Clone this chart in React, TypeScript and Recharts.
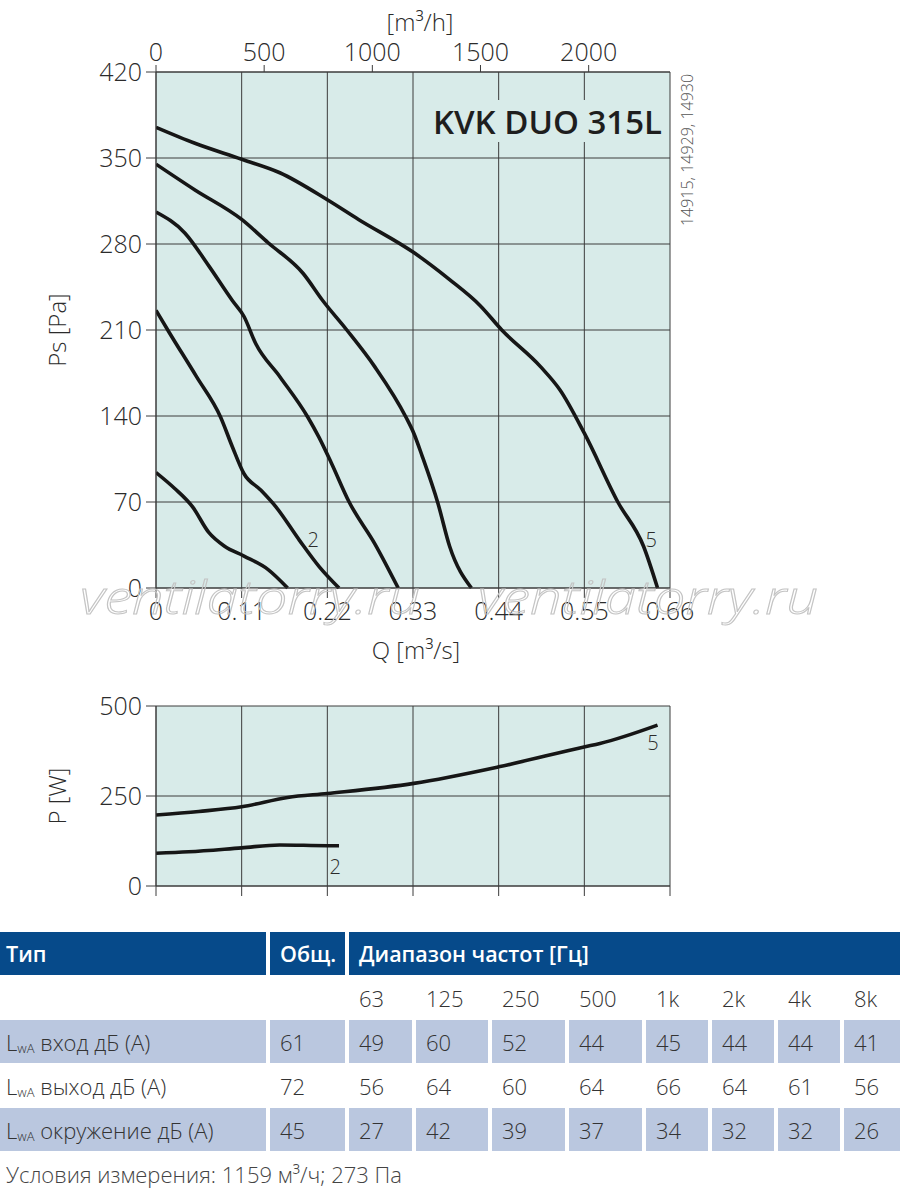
import { LineChart, Line, XAxis, YAxis, CartesianGrid, ReferenceDot } from "recharts";

const FONT = '"Open Sans", "Noto Sans", sans-serif';
const INK = "#2b2b2b";
const GRID = "#3c3c3c";
const PLOT_BG = "#d8ebe9";
const HEAD_BLUE = "#064a8a";
const CELL_BG = "#bac7df";

// fan curves: Q [m3/s] vs Ps [Pa]
const curve1Q = [0, 0.024, 0.047, 0.068, 0.088, 0.113, 0.144, 0.169];
const curve1Ps = [94, 81, 66, 45, 34, 26, 15, 0];
const curve2Q = [0, 0.017, 0.052, 0.083, 0.098, 0.113, 0.134, 0.154, 0.184, 0.21, 0.235];
const curve2Ps = [226, 208, 172, 139, 115, 93, 80, 66, 39, 17, 0];
const curve3Q = [0, 0.037, 0.068, 0.098, 0.113, 0.128, 0.159, 0.195, 0.209, 0.225, 0.248, 0.281, 0.311];
const curve3Ps = [306, 289, 262, 234, 221, 199, 172, 139, 123, 102, 70, 36, 0];
const curve4Q = [0, 0.05, 0.11, 0.144, 0.189, 0.214, 0.245, 0.281, 0.321, 0.331, 0.342, 0.362, 0.377, 0.405];
const curve4Ps = [345, 324, 300, 281, 256, 234, 210, 180, 139, 126, 107, 69, 34, 0];
const curve5Q = [0, 0.05, 0.11, 0.159, 0.22, 0.26, 0.331, 0.377, 0.416, 0.444, 0.494, 0.519, 0.55, 0.593, 0.626, 0.644];
const curve5Ps = [375, 362, 349, 338, 316, 300, 273, 251, 230, 210, 180, 161, 126, 70, 34, 0];

// power curves: Q [m3/s] vs P [W]
const power2Q = [0, 0.042, 0.11, 0.159, 0.22, 0.235];
const power2W = [91, 95, 106, 114, 112, 112];
const power5Q = [0, 0.055, 0.11, 0.169, 0.22, 0.331, 0.44, 0.551, 0.57, 0.644];
const power5W = [197, 207, 220, 246, 257, 285, 331, 387, 396, 447];

const qTicks = [0, 0.11, 0.22, 0.33, 0.44, 0.55, 0.66];
const qhTicks = [0, 500, 1000, 1500, 2000];
const psTicks = [0, 70, 140, 210, 280, 350, 420];
const pTicks = [0, 250, 500];

// sound table
const bands = ["63", "125", "250", "500", "1k", "2k", "4k", "8k"];
const inletTotal = 61;
const inletDb = [49, 60, 52, 44, 45, 44, 44, 41];
const outletTotal = 72;
const outletDb = [56, 64, 60, 64, 66, 64, 61, 56];
const surroundTotal = 45;
const surroundDb = [27, 42, 39, 37, 34, 32, 32, 26];

const zip = (qs: number[], vs: number[]) => qs.map((q, i) => ({ q, v: vs[i] }));
const fanCurves = [
  zip(curve1Q, curve1Ps),
  zip(curve2Q, curve2Ps),
  zip(curve3Q, curve3Ps),
  zip(curve4Q, curve4Ps),
  zip(curve5Q, curve5Ps),
];
// same top curve in m3/h, only so the upper axis gets its scale
const curve5PerHour = zip(curve5Q.map((q) => q * 3600), curve5Ps);
const powerCurves = [zip(power2Q, power2W), zip(power5Q, power5W)];

const tickStyle = { fill: INK, fontSize: 25, fontFamily: FONT, fontWeight: 300 };
const curveLabel = (value: string) => ({
  value,
  position: "center" as const,
  fill: INK,
  fontSize: 20,
  fontFamily: FONT,
  fontWeight: 300,
});

function Txt({ x, y, size, rotate, children, style }: any) {
  return (
    <div
      style={{
        position: "absolute",
        left: x,
        top: y,
        fontSize: size,
        fontFamily: FONT,
        fontWeight: 300,
        color: INK,
        whiteSpace: "nowrap",
        lineHeight: 1,
        transform: rotate ? `translate(-50%, -50%) rotate(${rotate}deg)` : "translate(-50%, -50%)",
        ...style,
      }}
    >
      {children}
    </div>
  );
}

function FanChart() {
  return (
    <LineChart width={900} height={680} margin={{ top: 32, right: 230, bottom: 52, left: 96 }}>
      <CartesianGrid fill={PLOT_BG} fillOpacity={1} stroke={GRID} strokeWidth={1} />
      <XAxis
        type="number"
        dataKey="q"
        domain={[0, 0.66]}
        ticks={qTicks}
        allowDataOverflow
        height={40}
        tickSize={10}
        tickMargin={4}
        stroke={GRID}
        tick={tickStyle}
        tickFormatter={(v: number) => String(v)}
      />
      <XAxis
        xAxisId="top"
        orientation="top"
        type="number"
        dataKey="q"
        domain={[0, 2376]}
        ticks={qhTicks}
        allowDataOverflow
        height={40}
        tickSize={7}
        tickMargin={4}
        stroke={GRID}
        tick={tickStyle}
      />
      <YAxis
        type="number"
        domain={[0, 420]}
        ticks={psTicks}
        width={60}
        tickSize={10}
        tickMargin={4}
        stroke={GRID}
        tick={tickStyle}
      />
      <Line
        xAxisId="top"
        data={curve5PerHour}
        dataKey="v"
        stroke="none"
        dot={false}
        activeDot={false}
        isAnimationActive={false}
      />
      {fanCurves.map((d, i) => (
        <Line
          key={i}
          data={d}
          dataKey="v"
          type="monotone"
          stroke="#161616"
          strokeWidth={3.6}
          dot={false}
          isAnimationActive={false}
        />
      ))}
      <ReferenceDot x={0.202} y={39} r={0} stroke="none" label={curveLabel("2")} />
      <ReferenceDot x={0.636} y={39} r={0} stroke="none" label={curveLabel("5")} />
    </LineChart>
  );
}

function PowerChart() {
  return (
    <LineChart width={900} height={230} margin={{ top: 26, right: 230, bottom: 4, left: 96 }}>
      <CartesianGrid fill={PLOT_BG} fillOpacity={1} stroke={GRID} strokeWidth={1} />
      <XAxis
        type="number"
        dataKey="q"
        domain={[0, 0.66]}
        ticks={qTicks}
        allowDataOverflow
        height={20}
        tickSize={10}
        stroke={GRID}
        tick={() => <g />}
      />
      <YAxis
        type="number"
        domain={[0, 500]}
        ticks={pTicks}
        width={60}
        tickSize={10}
        tickMargin={4}
        stroke={GRID}
        tick={tickStyle}
      />
      {powerCurves.map((d, i) => (
        <Line
          key={i}
          data={d}
          dataKey="v"
          type="monotone"
          stroke="#161616"
          strokeWidth={3.6}
          dot={false}
          isAnimationActive={false}
        />
      ))}
      <ReferenceDot x={0.23} y={53} r={0} stroke="none" label={curveLabel("2")} />
      <ReferenceDot x={0.638} y={397} r={0} stroke="none" label={curveLabel("5")} />
    </LineChart>
  );
}

const colWidths = [266, 75, 63, 72, 73, 73, 62, 62, 62, 56];
const gridCols = colWidths.map((w) => `${w}px`).join(" ");

function Lwa({ text }: { text: string }) {
  return (
    <span>
      L<span style={{ fontSize: 13, verticalAlign: "-2px" }}>wA</span> {text}
    </span>
  );
}

function Row({ label, total, values, shaded }: any) {
  const cell = (content: any, key: string | number, pad = 10) => (
    <div
      key={key}
      style={{
        background: shaded ? CELL_BG : "transparent",
        height: 43,
        display: "flex",
        alignItems: "center",
        paddingLeft: pad,
        fontSize: 22,
        fontWeight: 300,
        color: "#333",
      }}
    >
      {content}
    </div>
  );
  return (
    <>
      {cell(label, "l", 6)}
      {cell(total, "t")}
      {values.map((v: any, i: number) => cell(v, i))}
    </>
  );
}

function SoundTable() {
  const head = {
    background: HEAD_BLUE,
    color: "#fff",
    height: 43,
    display: "flex",
    alignItems: "center",
    fontSize: 21.5,
    fontWeight: 600,
    paddingLeft: 8,
  };
  return (
    <div style={{ position: "absolute", left: 0, top: 932, width: 900, fontFamily: FONT }}>
      <div style={{ display: "grid", gridTemplateColumns: gridCols, columnGap: 4, rowGap: 1 }}>
        <div style={{ ...head, paddingLeft: 6 }}>Тип</div>
        <div style={{ ...head, paddingLeft: 10 }}>Общ.</div>
        <div style={{ ...head, gridColumn: "3 / span 8", paddingLeft: 10 }}>Диапазон частот [Гц]</div>
        <Row label="" total="" values={bands} shaded={false} />
        <Row label={<Lwa text="вход дБ (А)" />} total={inletTotal} values={inletDb} shaded />
        <Row label={<Lwa text="выход дБ (А)" />} total={outletTotal} values={outletDb} shaded={false} />
        <Row label={<Lwa text="окружение дБ (А)" />} total={surroundTotal} values={surroundDb} shaded />
      </div>
      <div style={{ paddingLeft: 6, marginTop: 8, fontSize: 22, fontWeight: 300, color: "#444" }}>
        Условия измерения: 1159 м³/ч; 273 Па
      </div>
    </div>
  );
}

export default function App() {
  return (
    <div
      style={{
        position: "absolute",
        left: 0,
        top: 0,
        width: 900,
        height: 1195,
        background: "#fff",
        overflow: "hidden",
        fontFamily: FONT,
      }}
    >
      <div style={{ position: "absolute", left: 0, top: 0 }}>
        <FanChart />
      </div>
      <div style={{ position: "absolute", left: 0, top: 680 }}>
        <PowerChart />
      </div>

      {/* title box hides the grid behind it */}
      <div
        style={{
          position: "absolute",
          left: 424,
          top: 100,
          width: 244,
          height: 42,
          background: PLOT_BG,
          fontSize: 33,
          fontWeight: 600,
          color: "#1e1e1e",
          fontFamily: FONT,
          display: "flex",
          alignItems: "center",
          justifyContent: "flex-end",
          paddingRight: 6,
          boxSizing: "border-box",
        }}
      >
        KVK DUO 315L
      </div>

      <Txt x={420} y={22} size={24}>[m³/h]</Txt>
      <Txt x={416} y={650} size={24}>Q [m³/s]</Txt>
      <Txt x={57} y={330} size={24} rotate={-90}>Ps [Pa]</Txt>
      <Txt x={57} y={796} size={24} rotate={-90}>P [W]</Txt>
      <Txt x={687} y={150} size={16} rotate={-90} style={{ color: "#555" }}>
        14915, 14929, 14930
      </Txt>

      <svg
        width={900}
        height={1195}
        style={{ position: "absolute", left: 0, top: 0, pointerEvents: "none" }}
      >
        {[80, 478].map((x) => (
          <text
            key={x}
            x={x}
            y={614}
            fontSize={46}
            fontFamily={FONT}
            fontWeight={300}
            fontStyle="italic"
            fill="none"
            stroke="#c4c4c4"
            strokeWidth={1}
            textLength={340}
            lengthAdjust="spacingAndGlyphs"
          >
            ventilatorry.ru
          </text>
        ))}
      </svg>

      <SoundTable />
    </div>
  );
}
